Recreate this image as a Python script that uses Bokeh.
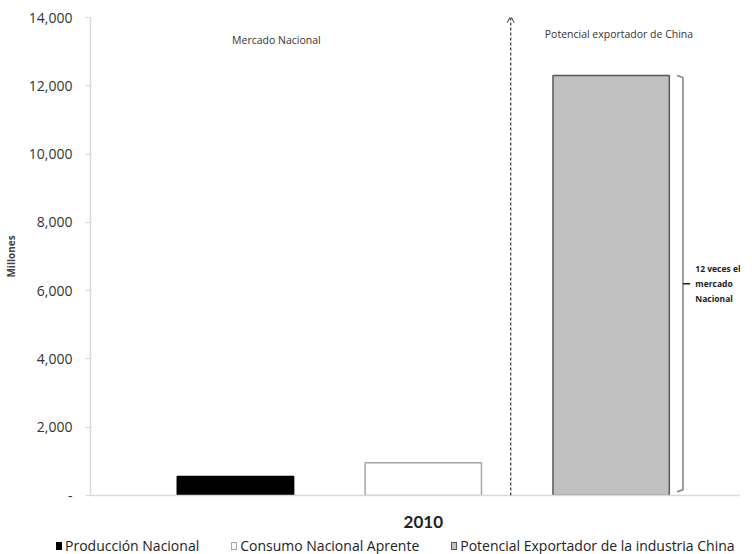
from bokeh.plotting import figure
from bokeh.layouts import column
from bokeh.models import (Range1d, FixedTicker, NumeralTickFormatter, Arrow, OpenHead,
                          Label, Div)
from bokeh.core.properties import value
from bokeh.embed import file_html
from bokeh.resources import INLINE

# ---- data ----
category = "2010"
series_names = ["Producción Nacional", "Consumo Nacional Aprente",
                "Potencial Exportador de la industria China"]
series_values = [560, 960, 12300]
y_ticks = [0, 2000, 4000, 6000, 8000, 10000, 12000, 14000]
note_text = "12 veces el\nmercado\nNacional"
left_title = "Mercado Nacional"
right_title = "Potencial exportador de China"

# ---- styles / layout ----
fill_colors = ["#000000", "#ffffff", "#c0c0c0"]
line_colors = ["#000000", "#a6a6a6", "#595959"]
FONT = "Open Sans"
BAR_STEP = 0.289
BAR_WIDTH = 0.179
offsets = [-BAR_STEP, 0.0, BAR_STEP]

p = figure(width=740, height=530,
           x_range=Range1d(-0.512, 0.488), y_range=Range1d(0, 14000),
           output_backend="svg", toolbar_location=None,
           min_border_left=82, min_border_right=0, min_border_top=17,
           min_border_bottom=33)
p.outline_line_color = None
p.grid.visible = False
p.background_fill_color = "#ffffff"
p.border_fill_color = "#ffffff"

for i in range(3):
    p.vbar(x=[offsets[i]], top=[series_values[i]], width=BAR_WIDTH,
           fill_color=fill_colors[i], line_color=line_colors[i], line_width=1.5)

# y axis
yax = p.yaxis[0]
yax.ticker = FixedTicker(ticks=y_ticks)
yax.formatter = NumeralTickFormatter(format="0,0")
yax.major_label_overrides = {0: "-"}
yax.axis_line_color = "#d9d9d9"
yax.axis_line_width = 1.5
yax.major_tick_line_color = "#d9d9d9"
yax.major_tick_in = 0
yax.major_tick_out = 5
yax.minor_tick_line_color = None
yax.major_label_standoff = 13
yax.major_label_text_font = FONT
yax.major_label_text_font_size = "14px"
yax.major_label_text_color = "#333333"
yax.axis_label = "Millones"
yax.axis_label_text_font = FONT
yax.axis_label_text_font_style = "bold"
yax.axis_label_text_font_size = "10px"
yax.axis_label_standoff = 8

# x axis
xax = p.xaxis[0]
xax.ticker = FixedTicker(ticks=[0.0])
xax.major_label_overrides = {0: category}
xax.axis_line_color = "#d9d9d9"
xax.axis_line_width = 1.5
xax.major_tick_line_color = None
xax.minor_tick_line_color = None
xax.major_label_standoff = 14
xax.major_label_text_font = "Lato"
xax.major_label_text_font_style = "bold"
xax.major_label_text_font_size = "17px"
xax.major_label_text_color = "#222222"

# dashed arrow between national market and China potential
xa = BAR_STEP / 2 - 0.01
p.add_layout(Arrow(end=OpenHead(size=7, line_width=1, line_color="#333333"),
                   x_start=xa, y_start=0, x_end=xa, y_end=14050,
                   line_dash="3 2", line_width=1.2, line_color="#333333"))

# bracket
xb = BAR_STEP + BAR_WIDTH / 2 + 0.021
top = series_values[2]
bottom = 110
mid = (top + bottom) / 2
p.line([xb - 0.009, xb, xb, xb - 0.009], [top, top - 60, bottom + 60, bottom],
       line_color="#7f7f7f", line_width=1.5)
p.line([xb, xb + 0.011], [mid, mid], line_color="#222222", line_width=1.5)
p.text(x=[xb + 0.019], y=[mid], text=[note_text], text_baseline="middle",
       text_font=value(FONT), text_font_style="bold", text_font_size="8.5px",
       text_line_height=1.35, text_color="#222222")

# titles
p.add_layout(Label(x=-0.226, y=13330, text=left_title, text_align="center",
                   text_baseline="middle", text_font=FONT, text_font_size="10.5px",
                   text_color="#333333"))
p.add_layout(Label(x=0.301, y=13530, text=right_title, text_align="center",
                   text_baseline="middle", text_font=FONT, text_font_size="10.5px",
                   text_color="#333333"))

# legend strip below the chart (spans the full width, left of the plot frame too)
legend_items_html = "".join(
    '<span style="display:inline-flex;align-items:center;margin-right:32px;">'
    f'<span style="display:inline-block;width:6px;height:8px;background:{fill_colors[i]};'
    f'border:1px solid {line_colors[i]};margin-right:3px;"></span>{series_names[i]}</span>'
    for i in range(3))
legend_div = Div(
    text=('<div style="font-family:\'Open Sans\';font-size:14px;color:#222222;'
          'white-space:nowrap;padding-left:56px;padding-top:6px;line-height:18px;">'
          + legend_items_html + '</div>'),
    width=740, height=24, margin=0)

layout = column(p, legend_div, spacing=0)
open("out.html", "w").write(file_html(layout, INLINE))
